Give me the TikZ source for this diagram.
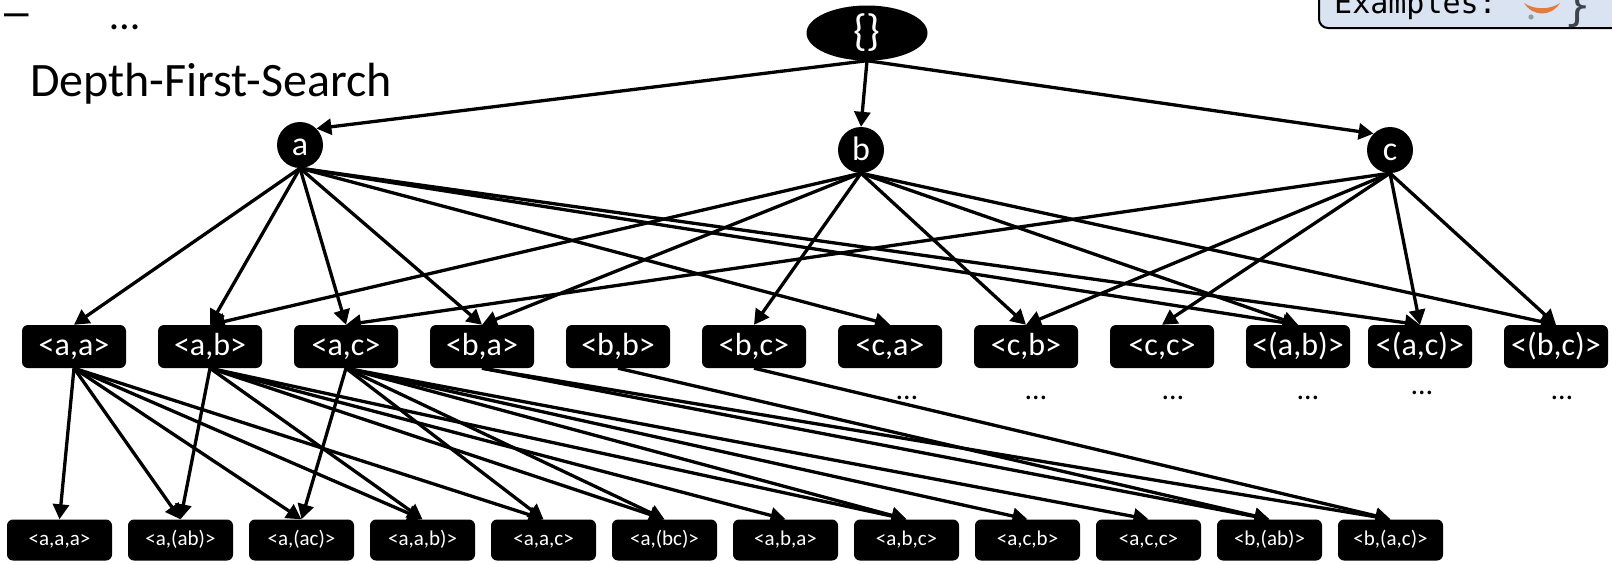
\documentclass[tikz,border=0pt]{standalone}
\usepackage{fontspec}
\setmainfont{Carlito}
\newfontfamily\notemono{DejaVu Sans Mono}
\newfontfamily\dashfont{Liberation Sans}
\usetikzlibrary{arrows.meta,shapes.geometric}
\definecolor{notefill}{RGB}{218,227,241}
\definecolor{smileorange}{RGB}{226,124,62}
\definecolor{smilegray}{RGB}{150,156,164}
\definecolor{bracegray}{RGB}{62,68,78}
\begin{document}
\begin{tikzpicture}[x=1pt,y=-1pt,
  link/.style={line width=3.3pt,-{Triangle[length=15pt,width=16pt]}},
  rootnode/.style={ellipse,fill=black,text=white,minimum width=121pt,minimum height=55pt,inner sep=0pt,font=\fontsize{44}{44}\selectfont},
  itemnode/.style={circle,fill=black,text=white,minimum size=46pt,inner sep=0pt,text height=23pt,text depth=2pt,font=\fontsize{34}{34}\selectfont},
  pairbox/.style={rectangle,rounded corners=6pt,fill=black,text=white,minimum width=104pt,minimum height=43pt,inner sep=0pt,text height=23pt,text depth=6pt,font=\fontsize{32}{32}\selectfont},
  triplebox/.style={rectangle,rounded corners=6pt,fill=black,text=white,minimum width=105pt,minimum height=41pt,inner sep=0pt,text height=15pt,text depth=4pt,font=\fontsize{21}{21}\selectfont},
  moredots/.style={inner sep=0pt,anchor=base,font=\fontsize{30}{30}\selectfont},
  plain/.style={inner sep=0pt,anchor=base west}
]
\useasboundingbox (0,0) rectangle (1612,563);
\clip (0,0) rectangle (1612,563);

% header text on the left
\node[plain,font=\dashfont\fontsize{44}{44}\selectfont] (dash) at (4,26) {–};
\node[plain,font=\fontsize{42}{42}\selectfont] (dots) at (110,29) {…};
\node[plain,font=\fontsize{48}{48}\selectfont] (title) at (30,96) {Depth-First-Search};

% note box cut by the top right corner
\draw[line width=2pt,fill=notefill,rounded corners=9pt] (1319,-40) rectangle (1660,28);
\node[plain,font=\notemono\fontsize{30}{30}\selectfont] (ex) at (1334,13) {Examples:};
\fill[smileorange] (1524,3) .. controls (1533,17) and (1551,17) .. (1560,3)
  .. controls (1550,10) and (1534,10) .. cycle;
\fill[smilegray] (1531,17) circle (2.6);
\node[plain,text=bracegray,font=\notemono\fontsize{44}{44}\selectfont] (brace) at (1564,20) {\}};

% lattice nodes
\node[rootnode] (root) at (867,33) {\{\}};

\node[itemnode] (a) at (300,145) {a};
\node[itemnode] (b) at (861,150) {b};
\node[itemnode] (c) at (1390,150) {c};

\foreach \n/\x/\t in {aa/74/{<a,a>}, ab/210/{<a,b>}, ac/346/{<a,c>}, ba/482/{<b,a>},
  bb/618/{<b,b>}, bc/754/{<b,c>}, ca/890/{<c,a>}, cb/1026/{<c,b>}, cc/1162/{<c,c>},
  pab/1298/{<(a,b)>}, pac/1420/{<(a,c)>}, pbc/1556/{<(b,c)>}}
  \node[pairbox] (\n) at (\x,346.5) {\t};

\foreach \n/\x/\t in {aaa/59.5/{<a,a,a>}, apab/180.5/{<a,(ab)>}, apac/301.5/{<a,(ac)>},
  aab/422.5/{<a,a,b)>}, aac/543.5/{<a,a,c>}, apbc/664.5/{<a,(bc)>}, aba/785.5/{<a,b,a>},
  abc/906.5/{<a,b,c>}, acb/1027.5/{<a,c,b>}, acc/1148.5/{<a,c,c>},
  bpab/1269.5/{<b,(ab)>}, bpac/1390.5/{<b,(a,c)>}}
  \node[triplebox] (\n) at (\x,540) {\t};

% unexpanded branches
\node[moredots] (mca) at (907,399) {…};
\node[moredots] (mcb) at (1036,399) {…};
\node[moredots] (mcc) at (1173,399) {…};
\node[moredots] (mpab) at (1308,399) {…};
\node[moredots] (mpac) at (1422,394) {…};
\node[moredots] (mpbc) at (1562,399) {…};

% root to single items
\draw[link] (root.south) -- (a.north east);
\draw[link] (root.south) -- (b.north);
\draw[link] (root.south) -- (c.north west);

% single items to 2-sequences
\foreach \t in {aa,ab,ac,ba,ca,pab,pac} \draw[link] (a.south) -- (\t.north);
\foreach \t in {ab,ba,bc,cb,pab,pbc} \draw[link] (b.south) -- (\t.north);
\foreach \t in {ac,cb,cc,pac,pbc} \draw[link] (c.south) -- (\t.north);

% 2-sequences to 3-sequences
\foreach \t in {aaa,apab,apac,aab,aac} \draw[link] (aa.south) -- (\t.north);
\foreach \t in {apab,aab,apbc,aba,abc} \draw[link] (ab.south) -- (\t.north);
\foreach \t in {apac,aac,apbc,abc,acb,acc} \draw[link] (ac.south) -- (\t.north);
\foreach \t in {bpab,bpac} \draw[link] (ba.south) -- (\t.north);
\draw[link] (bb.south) -- (bpab.north);
\draw[link] (bc.south) -- (bpac.north);
\end{tikzpicture}
\end{document}
